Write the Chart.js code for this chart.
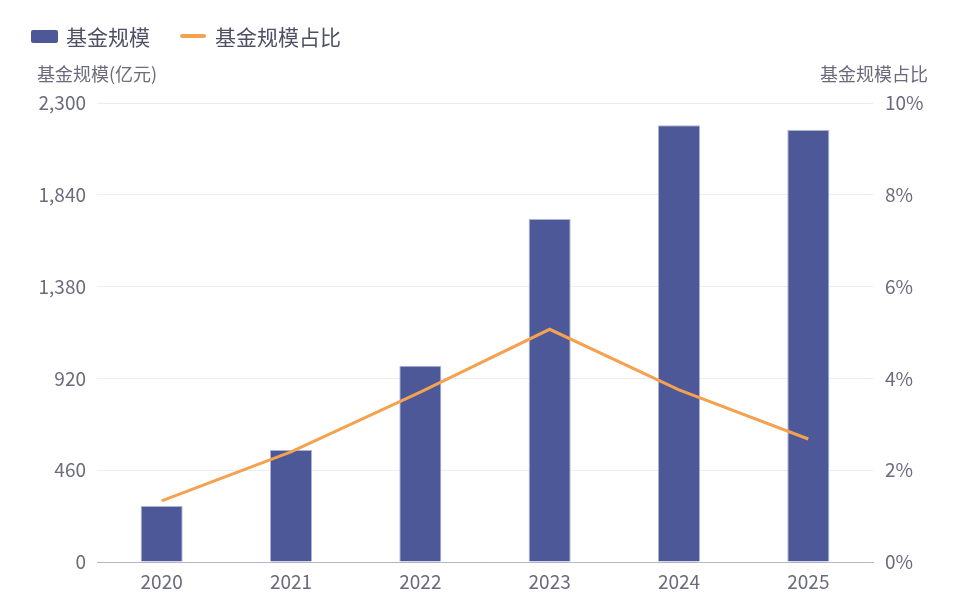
<!DOCTYPE html>
<html>
<head>
<meta charset="utf-8">
<script src="https://cdn.jsdelivr.net/npm/chart.js@4.4.1/dist/chart.umd.min.js"></script>
<style>
  html, body { margin: 0; padding: 0; background: #fff; }
  #wrap { position: relative; width: 969px; height: 615px; font-family: "Noto Sans CJK SC", "Noto Sans", sans-serif; }
  #myChart { position: absolute; left: 0; top: 0; }
  .legend { position: absolute; top: 21px; left: 31px; display: flex; align-items: center; font-size: 21px; color: #4f4f66; }
  .legend .item { display: flex; align-items: center; margin-right: 30px; }
  .legend .box { width: 27px; height: 13px; background: #4c5897; border-radius: 2px; margin-right: 8px; }
  .legend .ln { width: 26px; height: 4px; background: #f4a24f; border-radius: 2px; margin-right: 9px; }
  .atitle { position: absolute; top: 60px; font-size: 18px; color: #6b6b7d; }
</style>
</head>
<body>
<div id="wrap">
  <canvas id="myChart" width="969" height="615"></canvas>
  <div class="legend">
    <div class="item"><span class="box"></span>基金规模</div>
    <div class="item"><span class="ln"></span>基金规模占比</div>
  </div>
  <div class="atitle" style="left:37px">基金规模(亿元)</div>
  <div class="atitle" style="right:41px">基金规模占比</div>
</div>
<script>
const years = ['2020', '2021', '2022', '2023', '2024', '2025'];
const fundSize = [281, 561, 984, 1719, 2188, 2165];
const fundShare = [1.33, 2.40, 3.70, 5.07, 3.75, 2.68];
const leftTicks = [0, 460, 920, 1380, 1840, 2300];
const rightTicks = [0, 2, 4, 6, 8, 10];

const tickFont = { family: '"Noto Sans CJK SC", "Noto Sans", sans-serif', size: 19 };

let ctx = document.getElementById('myChart').getContext('2d');
let myChart = new Chart(ctx, {
    data: {
        labels: years,
        datasets: [{
            type: 'line',
            label: '基金规模占比',
            data: fundShare,
            yAxisID: 'y2',
            borderColor: '#f4a24f',
            backgroundColor: '#f4a24f',
            borderWidth: 3,
            pointRadius: 0,
            tension: 0,
            order: 0
        }, {
            type: 'bar',
            label: '基金规模',
            data: fundSize,
            yAxisID: 'y',
            backgroundColor: '#4c5897',
            borderColor: '#aeb3d4',
            borderWidth: 1,
            barPercentage: 0.325,
            categoryPercentage: 1,
            order: 1
        }]
    },
    options: {
        responsive: false,
        animation: false,
        layout: { padding: { top: 103, left: 0, right: 0, bottom: 0 } },
        plugins: { legend: { display: false }, tooltip: { enabled: false } },
        scales: {
            x: {
                grid: { display: false, drawTicks: false },
                border: { color: '#b4b4cc', width: 1 },
                ticks: { color: '#6b6b7d', font: tickFont, padding: 8 },
                afterFit: function(s) { s.height = 53; }
            },
            y: {
                position: 'left',
                min: 0, max: 2300,
                afterBuildTicks: function(s) { s.ticks = leftTicks.map(v => ({ value: v })); },
                grid: { color: '#ececf6', drawTicks: false },
                border: { display: false },
                ticks: {
                    color: '#6b6b7d', font: tickFont, padding: 11,
                    callback: v => v.toLocaleString('en-US')
                },
                afterFit: function(s) { s.width = 97; }
            },
            y2: {
                position: 'right',
                min: 0, max: 10,
                afterBuildTicks: function(s) { s.ticks = rightTicks.map(v => ({ value: v })); },
                grid: { display: false, drawTicks: false },
                border: { display: false },
                ticks: {
                    color: '#6b6b7d', font: tickFont, padding: 12,
                    callback: v => v + '%'
                },
                afterFit: function(s) { s.width = 96; }
            }
        }
    }
});
</script>
</body>
</html>
